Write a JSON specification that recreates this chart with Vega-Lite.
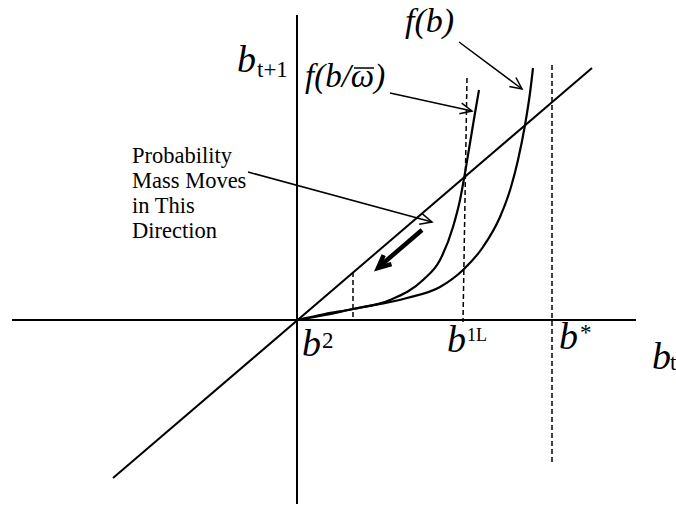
{
  "$schema": "https://vega.github.io/schema/vega-lite/v6.json",
  "width": 676,
  "height": 508,
  "autosize": "none",
  "padding": 0,
  "background": "white",
  "config": {"view": {"stroke": null}},
  "datasets": {
    "solid": [
      {"id": "hx", "o": 0, "X": -285, "Y": 0}, {"id": "hx", "o": 1, "X": 339, "Y": 0},
      {"id": "vy", "o": 0, "X": 0, "Y": 305}, {"id": "vy", "o": 1, "X": 0, "Y": -184},
      {"id": "diag", "o": 0, "X": -184, "Y": -158}, {"id": "diag", "o": 1, "X": 295, "Y": 252}
    ],
    "curves": [
      {"id": "inner", "X": 0, "Y": 0}, {"id": "inner", "X": 28, "Y": 6}, {"id": "inner", "X": 56, "Y": 11},
      {"id": "inner", "X": 93, "Y": 20}, {"id": "inner", "X": 126, "Y": 40}, {"id": "inner", "X": 143, "Y": 60},
      {"id": "inner", "X": 156, "Y": 93}, {"id": "inner", "X": 163, "Y": 120}, {"id": "inner", "X": 168, "Y": 147},
      {"id": "inner", "X": 173, "Y": 177}, {"id": "inner", "X": 178, "Y": 207}, {"id": "inner", "X": 182, "Y": 230},
      {"id": "outer", "X": 0, "Y": 0}, {"id": "outer", "X": 28, "Y": 5}, {"id": "outer", "X": 56, "Y": 11},
      {"id": "outer", "X": 110, "Y": 22}, {"id": "outer", "X": 143, "Y": 33}, {"id": "outer", "X": 166, "Y": 50},
      {"id": "outer", "X": 186, "Y": 73}, {"id": "outer", "X": 203, "Y": 103}, {"id": "outer", "X": 214, "Y": 133},
      {"id": "outer", "X": 221, "Y": 160}, {"id": "outer", "X": 228, "Y": 195}, {"id": "outer", "X": 233, "Y": 227},
      {"id": "outer", "X": 236, "Y": 252}
    ],
    "dashed": [
      {"id": "d1", "o": 0, "X": 56, "Y": 48}, {"id": "d1", "o": 1, "X": 56, "Y": 0},
      {"id": "d2", "o": 0, "X": 170, "Y": 242}, {"id": "d2", "o": 1, "X": 166, "Y": -2},
      {"id": "d3", "o": 0, "X": 255, "Y": 255}, {"id": "d3", "o": 1, "X": 255, "Y": -145}
    ],
    "arrows": [
      {"id": "a1", "o": 0, "X": 162, "Y": 278}, {"id": "a1", "o": 1, "X": 225, "Y": 231},
      {"id": "a1w", "o": 0, "X": 212.3, "Y": 233.6}, {"id": "a1w", "o": 1, "X": 225, "Y": 231}, {"id": "a1w", "o": 2, "X": 218.9, "Y": 242.5},
      {"id": "a2", "o": 0, "X": 93, "Y": 227}, {"id": "a2", "o": 1, "X": 175, "Y": 209},
      {"id": "a2w", "o": 0, "X": 162.3, "Y": 206.2}, {"id": "a2w", "o": 1, "X": 175, "Y": 209}, {"id": "a2w", "o": 2, "X": 164.7, "Y": 216.9},
      {"id": "a3", "o": 0, "X": -49, "Y": 148}, {"id": "a3", "o": 1, "X": 135, "Y": 98},
      {"id": "a3w", "o": 0, "X": 122.2, "Y": 95.8}, {"id": "a3w", "o": 1, "X": 135, "Y": 98}, {"id": "a3w", "o": 2, "X": 125.1, "Y": 106.4},
      {"id": "bar", "o": 0, "X": 57, "Y": 252}, {"id": "bar", "o": 1, "X": 77, "Y": 252}
    ],
    "bold": [
      {"id": "b", "o": 0, "X": 125, "Y": 90}, {"id": "b", "o": 1, "X": 83, "Y": 54},
      {"id": "bw", "o": 0, "X": 86.7, "Y": 64.8}, {"id": "bw", "o": 1, "X": 81, "Y": 52}, {"id": "bw", "o": 2, "X": 94.5, "Y": 55.8}
    ],
    "italicBig": [
      {"t": "b", "X": -60, "Y": 248},
      {"t": "b", "X": 5, "Y": -36},
      {"t": "b", "X": 150, "Y": -32},
      {"t": "b", "X": 262, "Y": -29},
      {"t": "b", "X": 355, "Y": -49}
    ],
    "fb": [{"t": "f(b)", "X": 108, "Y": 288}],
    "fbw": [{"t": "f(b/ω)", "X": 8, "Y": 233}],
    "scripts": [
      {"t": "t+1", "X": -40, "Y": 243},
      {"t": "2", "X": 25, "Y": -28},
      {"t": "*", "X": 283, "Y": -20},
      {"t": "t", "X": 373, "Y": -50}
    ],
    "small": [{"t": "1L", "X": 170, "Y": -21}],
    "note": [{"t": "Probability\nMass Moves\nin This\nDirection", "X": -165, "Y": 157}]
  },
  "encoding": {
    "x": {"field": "X", "type": "quantitative", "scale": {"domain": [-297, 379], "nice": false, "zero": false}, "axis": null},
    "y": {"field": "Y", "type": "quantitative", "scale": {"domain": [-188, 320], "nice": false, "zero": false}, "axis": null}
  },
  "layer": [
    {"data": {"name": "solid"}, "mark": {"type": "line", "color": "black", "strokeWidth": 2}, "encoding": {"detail": {"field": "id"}, "order": {"field": "o"}}},
    {"data": {"name": "curves"}, "mark": {"type": "line", "color": "black", "strokeWidth": 2.2, "interpolate": "monotone"}, "encoding": {"detail": {"field": "id"}}},
    {"data": {"name": "dashed"}, "mark": {"type": "line", "color": "black", "strokeWidth": 1.5, "strokeDash": [5, 3]}, "encoding": {"detail": {"field": "id"}, "order": {"field": "o"}}},
    {"data": {"name": "arrows"}, "mark": {"type": "line", "color": "black", "strokeWidth": 1.5}, "encoding": {"detail": {"field": "id"}, "order": {"field": "o"}}},
    {"data": {"name": "bold"}, "mark": {"type": "line", "color": "black", "strokeWidth": 4.5, "strokeCap": "butt", "strokeJoin": "miter"}, "encoding": {"detail": {"field": "id"}, "order": {"field": "o"}}},
    {"data": {"name": "italicBig"}, "mark": {"type": "text", "font": "Liberation Serif", "fontStyle": "italic", "fontSize": 38, "align": "left", "baseline": "alphabetic", "color": "black"}, "encoding": {"text": {"field": "t"}}},
    {"data": {"name": "fb"}, "mark": {"type": "text", "font": "Liberation Serif", "fontStyle": "italic", "fontSize": 34, "align": "left", "baseline": "alphabetic", "color": "black"}, "encoding": {"text": {"field": "t"}}},
    {"data": {"name": "fbw"}, "mark": {"type": "text", "font": "Liberation Serif", "fontStyle": "italic", "fontSize": 33, "align": "left", "baseline": "alphabetic", "color": "black"}, "encoding": {"text": {"field": "t"}}},
    {"data": {"name": "scripts"}, "mark": {"type": "text", "font": "Liberation Serif", "fontSize": 23, "align": "left", "baseline": "alphabetic", "color": "black"}, "encoding": {"text": {"field": "t"}}},
    {"data": {"name": "small"}, "mark": {"type": "text", "font": "Liberation Serif", "fontSize": 18, "align": "left", "baseline": "alphabetic", "color": "black"}, "encoding": {"text": {"field": "t"}}},
    {"data": {"name": "note"}, "mark": {"type": "text", "font": "Liberation Serif", "fontSize": 22.5, "lineHeight": 25, "lineBreak": "\n", "align": "left", "baseline": "alphabetic", "color": "black"}, "encoding": {"text": {"field": "t"}}}
  ]
}
